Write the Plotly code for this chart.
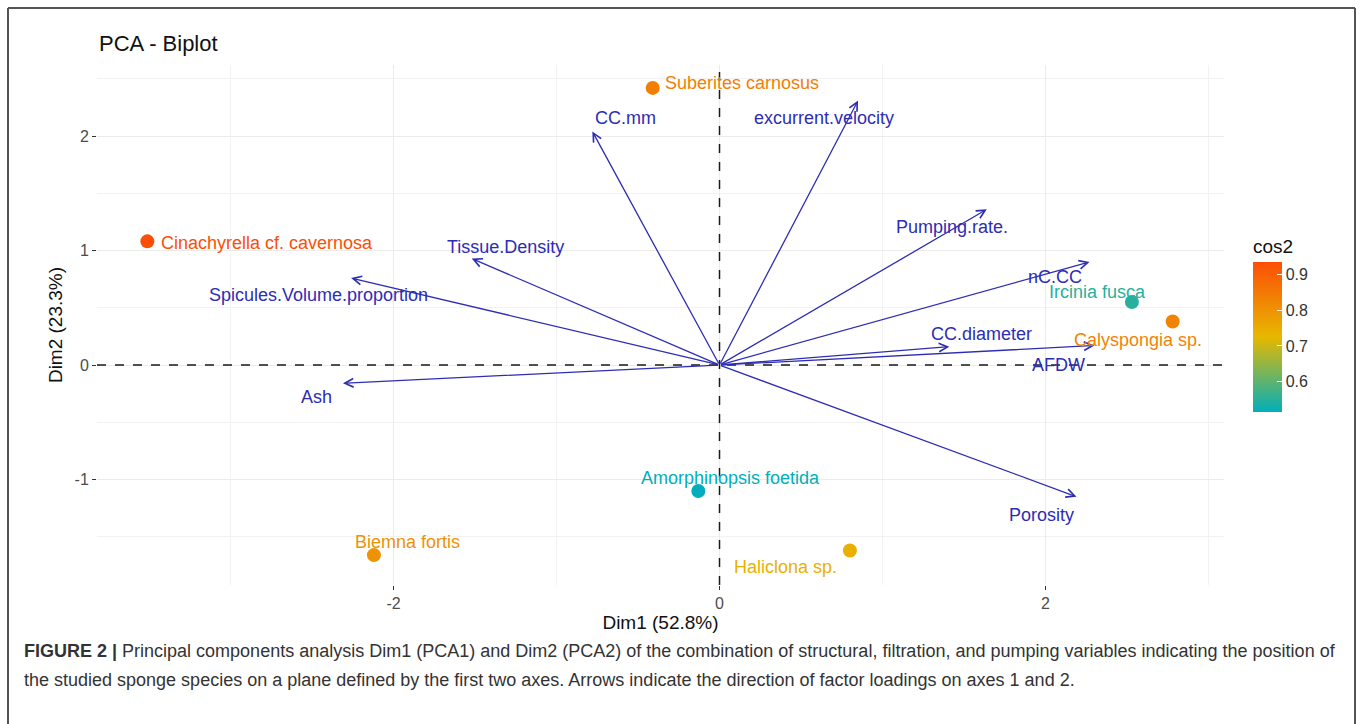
import plotly.graph_objects as go
from plotly.colors import sample_colorscale

# Individuals (sponge species): coordinates on Dim1/Dim2 and quality of representation
species = ["Suberites carnosus", "Cinachyrella cf. cavernosa", "Ircinia fusca",
           "Calyspongia sp.", "Amorphinopsis foetida", "Biemna fortis", "Haliclona sp."]
species_dim1 = [-0.41, -3.51, 2.53, 2.78, -0.13, -2.12, 0.80]
species_dim2 = [2.42, 1.08, 0.55, 0.38, -1.10, -1.66, -1.62]
species_cos2 = [0.84, 0.934, 0.55, 0.83, 0.516, 0.80, 0.74]

# Variables: loadings drawn as arrows from the origin
variables = ["CC.mm", "excurrent.velocity", "Pumping.rate.", "nC.CC", "CC.diameter",
             "AFDW", "Porosity", "Ash", "Spicules.Volume.proportion", "Tissue.Density"]
var_dim1 = [-0.78, 0.85, 1.64, 2.27, 1.41, 2.30, 2.19, -2.31, -2.26, -1.52]
var_dim2 = [2.04, 2.31, 1.36, 0.90, 0.16, 0.17, -1.15, -0.16, 0.76, 0.93]

x_ticks = [-2, 0, 2]
y_ticks = [-1, 0, 1, 2]
cbar_ticks = [0.6, 0.7, 0.8, 0.9]

# Label offsets in pixels (dx, dy) relative to each mark
species_offsets = [(89, 5), (120, -2), (-34, 10), (-35, -18), (32, 13), (34, 13), (-64, -16)]
var_offsets = [(33, 13), (-34, -17), (-35, -18), (-35, -15), (32, 13), (-36, -19),
               (-35, -18), (-26, -14), (-33, -17), (34, 12)]

FONT = "Liberation Sans, Arial, sans-serif"
VAR_COLOR = "#2D2DB4"
colorscale = [[0.0, "#00AFBB"], [0.5, "#E7B800"], [1.0, "#FC4E07"]]
CMIN, CMAX = 0.516, 0.934

W, H = 1362, 724
L, R, T, B = 97, 1224, 65, 585


def px(xp):
    return (xp - L) / (R - L)


def py(yp):
    return (B - yp) / (B - T)


fig = go.Figure()

fig.add_trace(go.Scatter(
    x=species_dim1, y=species_dim2, mode="markers",
    marker=dict(size=14, color=species_cos2, colorscale=colorscale, cmin=CMIN, cmax=CMAX,
                showscale=True,
                colorbar=dict(
                    title=dict(text="cos2", side="top", font=dict(family=FONT, size=19, color="#111")),
                    x=px(1253), xanchor="left", xpad=0,
                    y=py(412), yanchor="bottom", ypad=0,
                    len=176, lenmode="pixels", thickness=29, thicknessmode="pixels",
                    outlinewidth=0, tickvals=cbar_ticks, ticks="inside", ticklen=5,
                    tickcolor="white", tickwidth=1,
                    tickfont=dict(family=FONT, size=16, color="#333"))),
    hoverinfo="skip", showlegend=False))

annotations = []

# Loading arrows
for vx, vy in zip(var_dim1, var_dim2):
    annotations.append(dict(
        x=vx, y=vy, ax=0, ay=0, xref="x", yref="y", axref="x", ayref="y",
        text="", showarrow=True, arrowhead=5, arrowsize=1.3, arrowwidth=1.3,
        arrowcolor=VAR_COLOR, standoff=0, startstandoff=0))

# Variable labels
for name, vx, vy, (dx, dy) in zip(variables, var_dim1, var_dim2, var_offsets):
    annotations.append(dict(
        x=vx, y=vy, xref="x", yref="y", text=name, showarrow=False,
        xshift=dx, yshift=dy, font=dict(family=FONT, size=18, color=VAR_COLOR)))

# Species labels, coloured by cos2
norm = [(c - CMIN) / (CMAX - CMIN) for c in species_cos2]
label_colors = sample_colorscale(colorscale, norm)
for name, sx, sy, (dx, dy), col in zip(species, species_dim1, species_dim2,
                                       species_offsets, label_colors):
    annotations.append(dict(
        x=sx, y=sy, xref="x", yref="y", text=name, showarrow=False,
        xshift=dx, yshift=dy, font=dict(family=FONT, size=18, color=col)))

# Title
annotations.append(dict(
    x=px(97), y=py(44), xref="paper", yref="paper", xanchor="left", yanchor="middle",
    text="PCA - Biplot", showarrow=False, font=dict(family=FONT, size=22, color="#111")))

# Figure caption
annotations.append(dict(
    x=px(22), y=py(651), xref="paper", yref="paper", xanchor="left", yanchor="middle",
    text="<b>FIGURE 2 |</b> Principal components analysis Dim1 (PCA1) and Dim2 (PCA2) of the "
         "combination of structural, filtration, and pumping variables indicating the position of",
    showarrow=False, font=dict(family=FONT, size=18, color="#333")))
annotations.append(dict(
    x=px(22), y=py(680), xref="paper", yref="paper", xanchor="left", yanchor="middle",
    text="the studied sponge species on a plane defined by the first two axes. "
         "Arrows indicate the direction of factor loadings on axes 1 and 2.",
    showarrow=False, font=dict(family=FONT, size=18, color="#333")))

shapes = [
    # dashed reference lines through the origin
    dict(type="line", xref="x", yref="paper", x0=0, x1=0, y0=0, y1=1,
         line=dict(color="#1a1a1a", width=1.5, dash="dash"), layer="above"),
    dict(type="line", xref="paper", yref="y", x0=0, x1=1, y0=0, y1=0,
         line=dict(color="#1a1a1a", width=1.5, dash="dash"), layer="above"),
    # figure frame
    dict(type="line", xref="paper", yref="paper", x0=px(8), x1=px(8), y0=py(8), y1=py(740),
         line=dict(color="#555", width=2)),
    dict(type="line", xref="paper", yref="paper", x0=px(8), x1=px(1355), y0=py(8), y1=py(8),
         line=dict(color="#555", width=2)),
    dict(type="line", xref="paper", yref="paper", x0=px(1355), x1=px(1355), y0=py(8), y1=py(740),
         line=dict(color="#555", width=2)),
]

axis_common = dict(
    showgrid=True, gridcolor="#EBEBEB", gridwidth=1, zeroline=False, showline=False,
    ticks="outside", ticklen=4, tickcolor="#333", tickwidth=1,
    tickfont=dict(family=FONT, size=16, color="#4D4D4D"),
    minor=dict(showgrid=True, gridcolor="#F2F2F2", gridwidth=1))

fig.update_layout(
    width=W, height=H, margin=dict(l=L, r=W - R, t=T, b=H - B),
    paper_bgcolor="white", plot_bgcolor="white",
    xaxis=dict(range=[-3.819, 3.095], tickvals=x_ticks, ticktext=[str(v) for v in x_ticks],
               minor_tickvals=[-3, -1, 1, 3],
               title=dict(text="Dim1 (52.8%)", font=dict(family=FONT, size=19, color="#111"),
                          standoff=4),
               **axis_common),
    yaxis=dict(range=[-1.921, 2.620], tickvals=y_ticks, ticktext=[str(v) for v in y_ticks],
               minor_tickvals=[-1.5, -0.5, 0.5, 1.5, 2.5],
               title=dict(text="Dim2 (23.3%)", font=dict(family=FONT, size=19, color="#111"),
                          standoff=6),
               **axis_common),
    annotations=annotations, shapes=shapes, showlegend=False)

fig.write_html("out.html")
